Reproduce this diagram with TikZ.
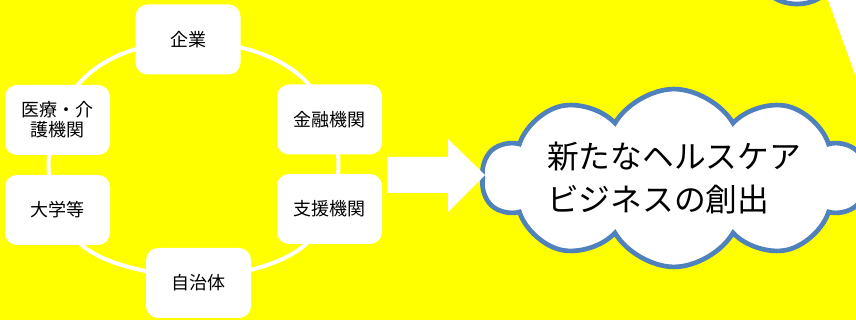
\documentclass[tikz,border=0pt]{standalone}
\usepackage{fontspec}
\setmainfont{Noto Sans CJK JP}
\usetikzlibrary{shapes.symbols,backgrounds}
\definecolor{bgyellow}{RGB}{255,255,0}
\definecolor{cloudblue}{RGB}{79,129,189}
\begin{document}
\begin{tikzpicture}[x=0.75pt,y=0.75pt]
    		% set the styles of the boxes, the ring and the cloud
    		\tikzset{
    			org/.style={
    				fill=white,
    				rounded corners=9pt,
    				minimum width=78.75pt,
    				minimum height=52.5pt,
    				inner sep=0pt,
    				align=center,
    				font=\fontsize{13.5pt}{15pt}\selectfont
    				},
    			ring/.style={
    				draw=white,
    				line width=3pt
    				},
    			idea/.style={
    				cloud,
    				cloud puffs=10,
    				cloud puff arc=120,
    				aspect=3,
    				inner sep=0pt,
    				draw=cloudblue,
    				line width=3.5pt,
    				fill=white,
    				minimum width=288pt,
    				minimum height=100pt,
    				align=left,
    				font=\fontsize{23.8pt}{32.5pt}\selectfont
    				}
    		}
    		\useasboundingbox (0,0) rectangle (856,320);

    		% background
    		\begin{scope}[on background layer]
    			\fill[bgyellow] (0,0) rectangle (856,320);
    			\fill[white] (828,320) -- (856,320) -- (856,243) -- cycle;
    		\end{scope}
    		\filldraw[fill=white, draw=cloudblue, line width=3.5pt] (797,340) ellipse (34 and 24);

    		% organisations
    		\node[org] (kigyo) at (188,280.5) {企業};
    		\node[org] (iryo) at (57.5,200) {医療・介\\護機関};
    		\node[org] (kinyu) at (329.5,200.5) {金融機関};
    		\node[org] (daigaku) at (57.5,110) {大学等};
    		\node[org] (shien) at (329.5,111) {支援機関};
    		\node[org] (jichi) at (198.5,37) {自治体};

    		% ring
    		\begin{scope}[on background layer]
    			\draw[ring] (kigyo.center) to[out=-5,in=110] (kinyu.center)
    				to[out=-70,in=70] (shien.center)
    				to[out=-110,in=15] (jichi.center)
    				to[out=165,in=-70] (daigaku.center)
    				to[out=110,in=-110] (iryo.center)
    				to[out=70,in=185] (kigyo.center);
    		\end{scope}

    		% cloud and arrow
    		\node[idea] (business) at (674,142) {新たなヘルスケア\\ビジネスの創出};
    		\fill[white] (387,127) -- (387,163) -- (448,163) -- (448,181) -- (485,145)
    			-- (448,108) -- (448,127) -- cycle;

\end{tikzpicture}
\end{document}
